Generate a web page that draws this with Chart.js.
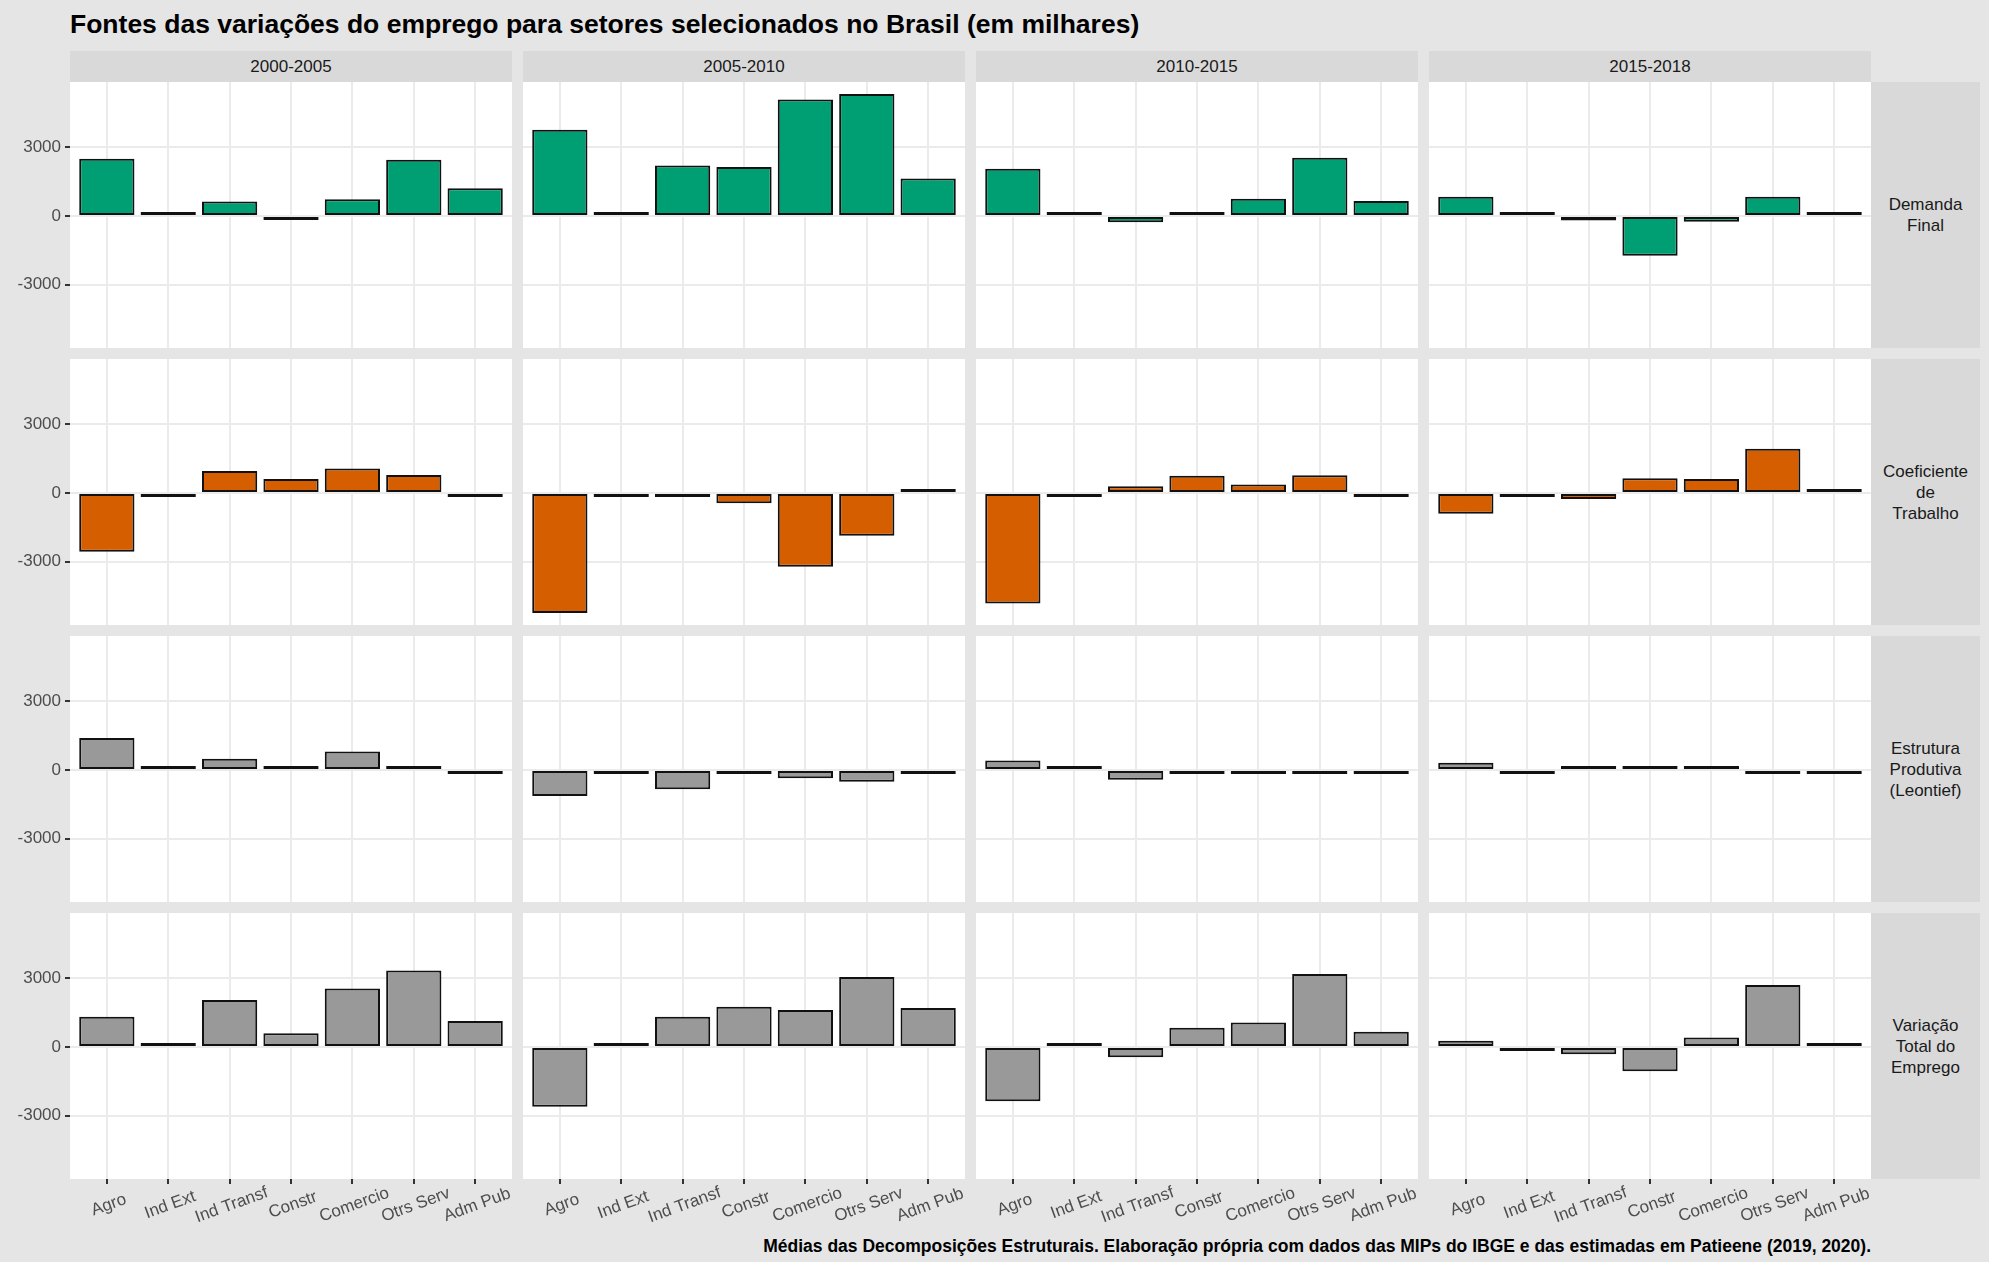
<!DOCTYPE html>
<html>
<head>
<meta charset="utf-8">
<script src="https://cdn.jsdelivr.net/npm/chart.js@4"></script>
<style>
  body {
    margin: 0;
    width: 1989px;
    height: 1262px;
    position: relative;
    overflow: hidden;
    background: #e5e5e5;
    font-family: "Liberation Sans", Arial, sans-serif;
  }
  .box { position: absolute; }
  .title { left: 70px; top: 9px; font-size: 26.5px; font-weight: bold; line-height: 30px; color: #000; white-space: nowrap; }
  .caption { right: 118px; top: 1236px; font-size: 17.5px; font-weight: bold; line-height: 20px; color: #000; white-space: nowrap; }
  .strip { background: #d9d9d9; color: #1a1a1a; font-size: 17px; display: flex; align-items: center; justify-content: center; text-align: center; line-height: 21px; white-space: pre-line; }
</style>
</head>
<body>
<div class="box title">Fontes das variações do emprego para setores selecionados no Brasil (em milhares)</div>
<div class="box caption">Médias das Decomposições Estruturais. Elaboração própria com dados das MIPs do IBGE e das estimadas em Patieene (2019, 2020).</div>
<script>
// categorias e facetas
const sectors = ["Agro", "Ind Ext", "Ind Transf", "Constr", "Comercio", "Otrs Serv", "Adm Pub"];
const periods = ["2000-2005", "2005-2010", "2010-2015", "2015-2018"];
const components = ["Demanda\nFinal", "Coeficiente\nde\nTrabalho", "Estrutura\nProdutiva\n(Leontief)", "Variação\nTotal do\nEmprego"];
const yTicks = [-3000, 0, 3000];

// valores (milhares), uma linha por período
const demandaFinal = [
  [2505, 60, 640, -145, 730, 2460, 1210],
  [3770, 90, 2213, 2140, 5096, 5330, 1645],
  [2067, 30, -277, 160, 757, 2548, 655],
  [845, 40, -190, -1733, -250, 845, 116],
];
const coefTrabalho = [
  [-2563, -58, 961, 611, 1077, 786, -100],
  [-5240, -20, -146, -451, -3218, -1864, 116],
  [-4834, -20, 291, 757, 378, 772, -30],
  [-903, -87, -262, 641, 611, 1937, 58],
];
const estrutura = [
  [1398, 10, 495, 146, 815, 116, -73],
  [-1136, -73, -845, -20, -364, -510, -73],
  [422, 58, -422, -116, -58, -175, -20],
  [320, -58, 146, 146, 102, -116, -116],
];
const variacaoTotal = [
  [1325, 73, 2053, 597, 2563, 3349, 1136],
  [-2606, 73, 1325, 1762, 1616, 3058, 1704],
  [-2374, 40, -451, 845, 1077, 3189, 670],
  [277, -73, -320, -1063, 422, 2708, 102],
];

const rows = [demandaFinal, coefTrabalho, estrutura, variacaoTotal];
const fillColors = ["#009E73", "#D55E00", "#999999", "#999999"];

// layout of the facet grid
const colLefts = [70, 523, 976, 1429];
const rowTops = [82, 359, 636, 913];
const PANEL_W = 442;
const PANEL_H = 266;
const AXIS_W = 70;
const AXIS_H = 61;
const FONT = '"Liberation Sans", Arial, sans-serif';

Chart.defaults.font.family = FONT;

// shared y range, like ggplot: data range plus 5% each side
const allValues = rows.flat(2);
const lo = Math.min(...allValues);
const hi = Math.max(...allValues);
const yMin = lo - (hi - lo) * 0.05;
const yMax = hi + (hi - lo) * 0.05;

const panelBackground = {
  id: "panelBackground",
  beforeDraw(chart) {
    const { ctx, chartArea: a } = chart;
    ctx.save();
    ctx.fillStyle = "#ffffff";
    ctx.fillRect(a.left, a.top, a.right - a.left, a.bottom - a.top);
    ctx.restore();
  },
};

// rotated sector names, centred under each tick
const sectorLabels = {
  id: "sectorLabels",
  afterDraw(chart) {
    const { ctx, chartArea } = chart;
    const xs = chart.scales.x;
    ctx.save();
    ctx.font = "17px " + FONT;
    ctx.fillStyle = "#4d4d4d";
    ctx.textAlign = "center";
    ctx.textBaseline = "middle";
    sectors.forEach((name, i) => {
      ctx.save();
      ctx.translate(xs.getPixelForValue(i + 1) + 2, chartArea.bottom + 26);
      ctx.rotate(-20 * Math.PI / 180);
      ctx.fillText(name, 0, 0);
      ctx.restore();
    });
    ctx.restore();
  },
};

const addBox = (cls, left, top, width, height, text) => {
  const el = document.createElement("div");
  el.className = "box " + cls;
  Object.assign(el.style, { left: left + "px", top: top + "px", width: width + "px", height: height + "px" });
  if (text !== undefined) el.textContent = text;
  document.body.appendChild(el);
  return el;
};

// strips
periods.forEach((p, c) => addBox("strip", colLefts[c], 51, PANEL_W, 31, p));
components.forEach((name, r) => addBox("strip", 1871, rowTops[r], 109, PANEL_H, name));

const renderPanel = (r, c) => {
  const isLeft = c === 0;
  const isBottom = r === rows.length - 1;
  const left = isLeft ? colLefts[c] - AXIS_W : colLefts[c];
  const width = isLeft ? PANEL_W + AXIS_W : PANEL_W;
  const height = isBottom ? PANEL_H + AXIS_H : PANEL_H;
  const holder = addBox("", left, rowTops[r], width, height);
  const canvas = document.createElement("canvas");
  holder.appendChild(canvas);

  const values = rows[r][c];

  new Chart(canvas, {
    type: "bar",
    data: {
      datasets: [
        {
          data: values.map((v, i) => ({ x: i + 1, y: v })),
          backgroundColor: fillColors[r],
          borderColor: "#111111",
          borderWidth: 2,
          borderSkipped: false,
          minBarLength: 4,
          barPercentage: 0.9,
          categoryPercentage: 1,
        },
      ],
    },
    options: {
      responsive: true,
      maintainAspectRatio: false,
      animation: false,
      layout: { padding: 0 },
      plugins: { legend: { display: false }, tooltip: { enabled: false } },
      scales: {
        x: {
          type: "linear",
          min: 0.4,
          max: 7.6,
          offset: false,
          afterBuildTicks: (s) => { s.ticks = sectors.map((_, i) => ({ value: i + 1 })); },
          afterFit: (s) => {
            s.height = isBottom ? AXIS_H : 0;
            s.paddingLeft = s.paddingRight = s.paddingTop = s.paddingBottom = 0;
          },
          ticks: { display: false },
          grid: { offset: false, color: "#ebebeb", lineWidth: 2, drawTicks: isBottom, tickLength: 5, tickColor: "#333333", tickWidth: 2 },
          border: { display: false },
        },
        y: {
          min: yMin,
          max: yMax,
          afterBuildTicks: (s) => { s.ticks = yTicks.map((v) => ({ value: v })); },
          afterFit: (s) => {
            s.width = isLeft ? AXIS_W : 0;
            s.paddingLeft = s.paddingRight = s.paddingTop = s.paddingBottom = 0;
          },
          ticks: { display: isLeft, color: "#4d4d4d", font: { size: 17 }, padding: 4, callback: (v) => String(v) },
          grid: { color: "#ebebeb", lineWidth: 2, drawTicks: isLeft, tickLength: 5, tickColor: "#333333", tickWidth: 2 },
          border: { display: false },
        },
      },
    },
    plugins: isBottom ? [panelBackground, sectorLabels] : [panelBackground],
  });
};

rows.forEach((_, r) => periods.forEach((_, c) => renderPanel(r, c)));
</script>
</body>
</html>
